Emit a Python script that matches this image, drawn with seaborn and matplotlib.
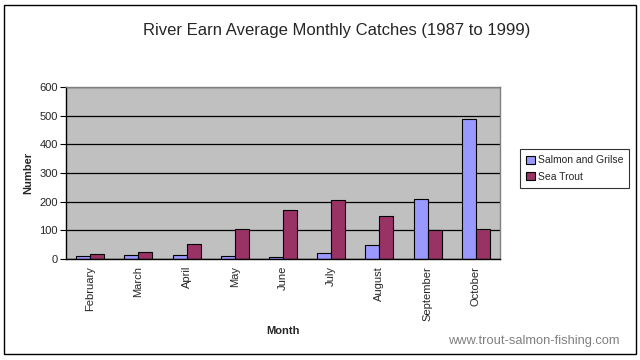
import numpy as np
import pandas as pd
import matplotlib.pyplot as plt
import seaborn as sns

months = ["February", "March", "April", "May", "June", "July",
          "August", "September", "October"]
salmon = [12, 15, 15, 12, 8, 22, 50, 209, 487]
sea_trout = [18, 25, 53, 105, 171, 206, 150, 100, 105]
series = ["Salmon and Grilse", "Sea Trout"]
y_ticks = [0, 100, 200, 300, 400, 500, 600]

df = pd.DataFrame({
    "Month": months * 2,
    "Catch": salmon + sea_trout,
    "Species": [series[0]] * len(months) + [series[1]] * len(months),
})

sns.set_style("white")
plt.rcParams["font.family"] = ["Liberation Sans", "DejaVu Sans"]

fig = plt.figure(figsize=(6.4, 3.6), dpi=100)
fig.patch.set_facecolor("white")
# plot area in pixels: left 66, right 500, top 87, bottom 259
ax = fig.add_axes([66 / 640, 1 - 259 / 360, 434 / 640, 172 / 360])
ax.set_facecolor("#C0C0C0")

sns.barplot(data=df, x="Month", y="Catch", hue="Species", order=months,
            palette=["#9999FF", "#993366"], edgecolor="black", linewidth=0.8,
            width=0.58, saturation=1, ax=ax, legend=False)

ax.set_xlim(-0.5, len(months) - 0.5)
ax.set_ylim(0, 600)
ax.set_yticks(y_ticks)
ax.set_yticklabels([str(v) for v in y_ticks], fontsize=8)
ax.yaxis.grid(True, color="black", linewidth=0.9)
ax.set_axisbelow(True)

ax.set_xticks(range(len(months)))
ax.set_xticklabels(months, rotation=90, fontsize=8)
ax.set_xticks(np.arange(-0.5, len(months), 1), minor=True)
ax.tick_params(axis="x", which="major", length=0, pad=5)
ax.tick_params(axis="x", which="minor", length=4, direction="out", color="black")
ax.tick_params(axis="y", length=4, direction="out", color="black", left=True, pad=2)

for side in ["left", "bottom"]:
    ax.spines[side].set_color("black")
    ax.spines[side].set_linewidth(1)
for side in ["top", "right"]:
    ax.spines[side].set_color("#808080")
    ax.spines[side].set_linewidth(1)

ax.set_xlabel("")
ax.set_ylabel("")
fig.text(28 / 640, 1 - 173 / 360, "Number", rotation=90, fontsize=8,
         fontweight="bold", ha="center", va="center")
fig.text(283 / 640, 1 - 331 / 360, "Month", fontsize=8,
         fontweight="bold", ha="center", va="center")
fig.text(337 / 640, 1 - 30 / 360, "River Earn Average Monthly Catches (1987 to 1999)",
         fontsize=12, ha="center", va="center")
fig.text(534 / 640, 1 - 341 / 360, "www.trout-salmon-fishing.com", fontsize=9.3,
         color="#808080", ha="center", va="center")

handles = [plt.Rectangle((0, 0), 1, 1, facecolor=c, edgecolor="black", linewidth=0.8)
           for c in ["#9999FF", "#993366"]]
leg = fig.legend(handles, series, loc="upper left",
                 bbox_to_anchor=(520 / 640, 1 - 149 / 360), fontsize=7.5,
                 frameon=True, fancybox=False, edgecolor="black",
                 handlelength=0.8, handleheight=0.8, handletextpad=0.3,
                 borderpad=0.6, labelspacing=0.6, borderaxespad=0)
leg.get_frame().set_linewidth(0.8)

# outer frame of the chart
fig.add_artist(plt.Rectangle((4 / 640, 6 / 360), 632 / 640, 349 / 360,
                             transform=fig.transFigure, fill=False,
                             edgecolor="black", linewidth=1))

fig.savefig("out.png", dpi=100)
